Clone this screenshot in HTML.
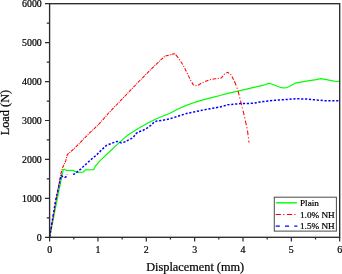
<!DOCTYPE html><html><head><meta charset="utf-8"><style>html,body{margin:0;padding:0;background:#fff;overflow:hidden}svg{display:block;will-change:transform}text{font-family:"Liberation Serif",serif;fill:#000;stroke:#000;stroke-width:0.22px}</style></head><body>
<svg width="342" height="274" viewBox="0 0 342 274">
<polyline points="49.6,237.3 57.1,200.0 62.3,174.0 63.2,169.9 64.2,169.2 66.0,170.3 73.0,170.4 77.4,172.4 83.2,172.2 85.4,169.8 93.7,169.7 95.5,166.0 100.1,160.6 107.4,153.8 116.5,145.1 125.6,136.9 129.1,134.2 138.2,128.4 147.4,123.2 156.5,118.7 165.6,115.0 170.0,113.2 177.5,109.2 186.3,105.4 195.1,102.2 203.9,99.6 212.6,97.3 220.0,95.5 227.7,93.4 240.3,90.7 252.9,87.7 263.5,85.2 268.6,83.4 271.7,84.0 274.9,85.2 281.1,87.7 284.9,88.0 288.7,86.7 295.0,83.2 306.3,81.2 316.3,79.7 320.6,78.7 326.4,79.7 334.0,81.2 339.5,81.4" fill="none" stroke="#00ff00" stroke-width="1.2" stroke-linejoin="round"/>
<polyline points="49.6,237.3 56.1,200.0 60.6,174.6 62.8,167.3 65.7,160.7 67.4,154.5 73.6,149.2 79.8,143.0 89.1,133.4 97.3,125.7 101.5,121.3 108.2,113.5 116.4,105.0 127.4,93.5 138.4,82.0 149.3,71.0 160.0,60.6 165.0,56.1 169.1,55.1 174.1,53.7 176.1,55.1" fill="none" stroke="#ff0000" stroke-width="1.05" stroke-dasharray="3.4 1 1 1" stroke-linejoin="round"/>
<polyline points="176.1,55.1 179.1,59.1 183.1,65.1 187.1,73.1 191.1,81.2 193.2,84.6 195.2,85.8 198.2,85.2 201.6,83.0 205.0,81.6 209.8,79.7 215.1,78.8 221.3,78.0 224.6,73.8 227.9,72.3 231.1,74.8 234.4,81.3" fill="none" stroke="#ff0000" stroke-width="1.05" stroke-dasharray="3.6 1.6 1.1 1.6" stroke-linejoin="round"/>
<polyline points="234.4,81.3 237.7,89.5 241.0,102.6 244.3,115.7 247.5,130.5 249.0,142.5" fill="none" stroke="#ff0000" stroke-width="1.05" stroke-dasharray="4.6 2.2 1.2 2.2" stroke-linejoin="round"/>
<polyline points="49.6,237.3 55.5,201.0 61.3,175.3 63.5,177.5 65.7,177.2 67.4,174.4" fill="none" stroke="#0000ff" stroke-width="1.5" stroke-dasharray="2.4 1.8" stroke-linejoin="round"/>
<polyline points="73.0,174.4 75.2,173.7 77.4,171.7 81.0,168.8 85.5,164.6 90.9,159.7 96.4,155.1 101.9,149.6 106.5,145.4 112.8,142.9 117.4,141.4 121.1,142.9 125.6,141.8 127.3,140.6 132.8,137.8 136.4,133.3 138.2,132.0 142.8,130.5 147.4,127.8 151.9,124.7 153.8,122.3 156.5,121.1 162.0,120.5 168.8,119.1 177.5,116.4 186.3,113.6 195.1,111.7 203.9,109.9 212.6,108.3 220.0,107.0 227.7,104.8 240.3,103.6 252.9,103.3 263.5,101.5 274.9,100.3 286.2,99.5 296.2,98.8 306.3,99.0 316.3,100.0 326.4,100.8 339.5,100.8" fill="none" stroke="#0000ff" stroke-width="1.5" stroke-dasharray="2.2 1.7" stroke-linejoin="round"/>
<rect x="49.6" y="3.7" width="290.1" height="233.6" fill="none" stroke="#2b2b2b" stroke-width="1.35"/>
<path d="M49.60,237.3v4.2M73.78,237.3v2.2M97.95,237.3v4.2M122.12,237.3v2.2M146.30,237.3v4.2M170.47,237.3v2.2M194.65,237.3v4.2M218.82,237.3v2.2M243.00,237.3v4.2M267.18,237.3v2.2M291.35,237.3v4.2M315.52,237.3v2.2M339.70,237.3v4.2M49.6,237.30h-4.6M49.6,217.83h-2.8M49.6,198.37h-4.6M49.6,178.90h-2.8M49.6,159.43h-4.6M49.6,139.97h-2.8M49.6,120.50h-4.6M49.6,101.03h-2.8M49.6,81.57h-4.6M49.6,62.10h-2.8M49.6,42.63h-4.6M49.6,23.17h-2.8M49.6,3.70h-4.6" stroke="#2b2b2b" stroke-width="1.2" fill="none"/>
<text x="49.6" y="252.6" font-size="9.9" text-anchor="middle">0</text>
<text x="97.9" y="252.6" font-size="9.9" text-anchor="middle">1</text>
<text x="146.3" y="252.6" font-size="9.9" text-anchor="middle">2</text>
<text x="194.6" y="252.6" font-size="9.9" text-anchor="middle">3</text>
<text x="243.0" y="252.6" font-size="9.9" text-anchor="middle">4</text>
<text x="291.3" y="252.6" font-size="9.9" text-anchor="middle">5</text>
<text x="339.7" y="252.6" font-size="9.9" text-anchor="middle">6</text>
<text x="41.8" y="240.6" font-size="9.9" text-anchor="end">0</text>
<text x="41.8" y="201.7" font-size="9.9" text-anchor="end">1000</text>
<text x="41.8" y="162.7" font-size="9.9" text-anchor="end">2000</text>
<text x="41.8" y="123.8" font-size="9.9" text-anchor="end">3000</text>
<text x="41.8" y="84.9" font-size="9.9" text-anchor="end">4000</text>
<text x="41.8" y="45.9" font-size="9.9" text-anchor="end">5000</text>
<text x="41.8" y="7.0" font-size="9.9" text-anchor="end">6000</text>
<text x="195.2" y="271" font-size="12.3" text-anchor="middle">Displacement (mm)</text>
<text transform="translate(9.2,112.6) rotate(-90)" font-size="12.3" text-anchor="middle">Load (N)</text>
<rect x="274.3" y="197.2" width="62.1" height="33.9" fill="#fff" stroke="#4a4a4a" stroke-width="1"/>
<line x1="275.9" y1="202.8" x2="296.9" y2="202.8" stroke="#00ff00" stroke-width="1.4"/>
<line x1="275.7" y1="214.5" x2="297" y2="214.5" stroke="#ff0000" stroke-width="1.1" stroke-dasharray="5.2 2.3 1.1 2.6"/>
<line x1="275.7" y1="226.2" x2="297.4" y2="226.2" stroke="#0000ff" stroke-width="1.3" stroke-dasharray="4.1 5.2"/>
<text x="300" y="205.8" font-size="9.2">Plain</text>
<text x="300" y="217.6" font-size="9.2">1.0% NH</text>
<text x="300" y="229.2" font-size="9.2">1.5% NH</text>
</svg></body></html>
